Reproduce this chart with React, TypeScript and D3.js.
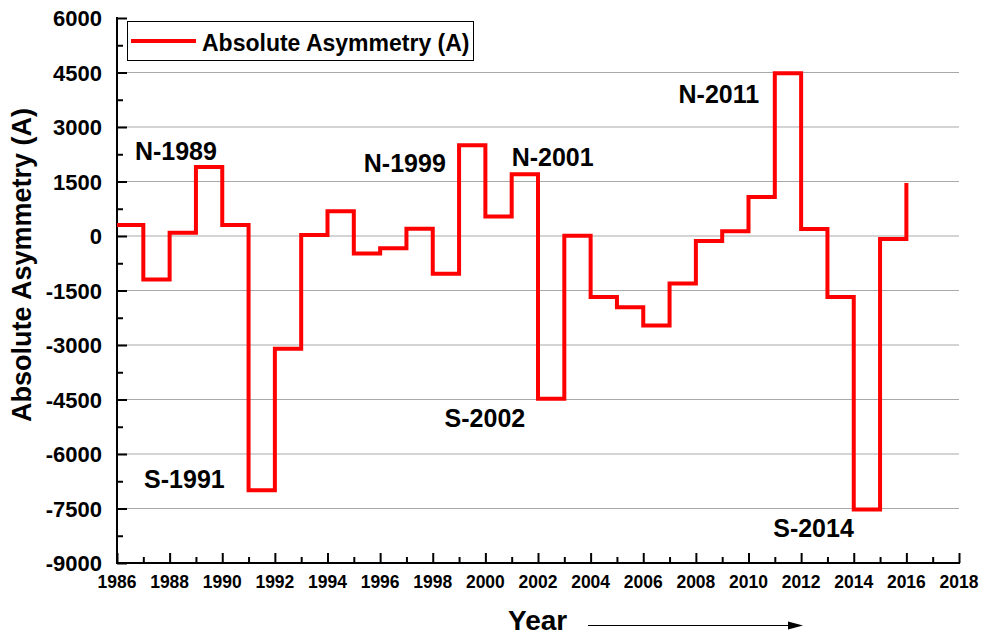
import { useEffect, useRef } from 'react'
import * as d3 from 'd3'

// yearly absolute asymmetry, each value held for one year (step after)
const years = [1986, 1987, 1988, 1989, 1990, 1991, 1992, 1993, 1994, 1995, 1996, 1997, 1998, 1999, 2000,
  2001, 2002, 2003, 2004, 2005, 2006, 2007, 2008, 2009, 2010, 2011, 2012, 2013, 2014, 2015, 2016]
const asymmetry = [300, -1200, 90, 1900, 300, -7000, -3100, 30, 680, -480, -340, 200, -1040, 2500, 540,
  1700, -4480, 10, -1680, -1960, -2460, -1310, -140, 130, 1070, 4480, 190, -1680, -7530, -80, 1460]

const xTicks = d3.range(1986, 2019, 2)
const yTicks = d3.range(-9000, 6001, 1500)

const peakLabels = ['N-1989', 'N-1999', 'N-2001', 'N-2011', 'S-1991', 'S-2002', 'S-2014']
const peakYears = [1986.68, 1995.38, 2001.0, 2007.34, 1987.03, 1998.45, 2010.94]
const peakValues = [2105, 1775, 1940, 3647, -6927, -5246, -8298]

const FONT = '"Liberation Sans", Arial, sans-serif'

export default function App() {
  const svgRef = useRef<SVGSVGElement>(null)

  useEffect(() => {
    if (!svgRef.current) return
    const svg = d3.select(svgRef.current)
    svg.selectAll('*').remove()

    const left = 117, right = 959, top = 18, bottom = 563
    const x = d3.scaleLinear().domain([1986, 2018]).range([left, right])
    const y = d3.scaleLinear().domain([-9000, 6000]).range([bottom, top])

    // grid lines
    svg.append('g')
      .selectAll('line')
      .data(yTicks.filter(v => v > -9000 && v < 6000))
      .join('line')
      .attr('x1', left).attr('x2', right)
      .attr('y1', d => y(d)).attr('y2', d => y(d))
      .attr('stroke', '#a9a9a9')
      .attr('stroke-width', 1.2)

    // y axis
    const yAxis = svg.append('g').attr('transform', `translate(${left},0)`)
    yAxis.call(d3.axisRight(y).tickValues(d3.range(-9000, 6001, 750)).tickSize(6).tickFormat(() => ''))
    yAxis.call(g => g.selectAll('.tick line').filter(d => (d as number) % 1500 === 0).attr('x2', 10))
    yAxis.selectAll('.domain').remove()
    yAxis.selectAll('.tick line').attr('stroke', '#000').attr('stroke-width', 2)
    yAxis.selectAll('.tick text').remove()
    svg.append('line')
      .attr('x1', left).attr('x2', left).attr('y1', top - 1).attr('y2', bottom + 1)
      .attr('stroke', '#000').attr('stroke-width', 2)
    svg.append('g')
      .selectAll('text')
      .data(yTicks)
      .join('text')
      .attr('x', left - 15)
      .attr('y', d => y(d) + 8)
      .attr('text-anchor', 'end')
      .attr('font-family', FONT)
      .attr('font-weight', 'bold')
      .attr('font-size', 22)
      .text(d => d)

    // x axis
    const xAxis = svg.append('g').attr('transform', `translate(0,${bottom})`)
    xAxis.call(d3.axisTop(x).tickValues(d3.range(1986, 2019, 1)).tickSize(6).tickFormat(() => ''))
    xAxis.call(g => g.selectAll('.tick line').filter(d => (d as number) % 2 === 0).attr('y2', -10))
    xAxis.selectAll('.domain').remove()
    xAxis.selectAll('.tick line').attr('stroke', '#000').attr('stroke-width', 2)
    xAxis.selectAll('.tick text').remove()
    svg.append('line')
      .attr('x1', left - 1).attr('x2', right + 1).attr('y1', bottom).attr('y2', bottom)
      .attr('stroke', '#000').attr('stroke-width', 2)
    svg.append('g')
      .selectAll('text')
      .data(xTicks)
      .join('text')
      .attr('x', d => x(d))
      .attr('y', bottom + 25)
      .attr('text-anchor', 'middle')
      .attr('font-family', FONT)
      .attr('font-weight', 'bold')
      .attr('font-size', 17.5)
      .text(d => d)

    // step line
    const pts = years.map((yr, i) => [yr, asymmetry[i]] as [number, number])
    const line = d3.line<[number, number]>().x(d => x(d[0])).y(d => y(d[1])).curve(d3.curveStepAfter)
    svg.append('path')
      .datum(pts)
      .attr('fill', 'none')
      .attr('stroke', '#ff0000')
      .attr('stroke-width', 4)
      .attr('stroke-linejoin', 'miter')
      .attr('d', line)

    // peak labels
    svg.append('g')
      .selectAll('text')
      .data(peakLabels)
      .join('text')
      .attr('x', (_, i) => x(peakYears[i]))
      .attr('y', (_, i) => y(peakValues[i]))
      .attr('font-family', FONT)
      .attr('font-weight', 'bold')
      .attr('font-size', 25)
      .text(d => d)

    // legend
    svg.append('rect')
      .attr('x', 127.5).attr('y', 21.5).attr('width', 346).attr('height', 39)
      .attr('fill', '#fff').attr('stroke', '#000').attr('stroke-width', 1)
    svg.append('line')
      .attr('x1', 131).attr('x2', 196).attr('y1', 41).attr('y2', 41)
      .attr('stroke', '#ff0000').attr('stroke-width', 4)
    svg.append('text')
      .attr('x', 202).attr('y', 51)
      .attr('font-family', FONT).attr('font-weight', 'bold').attr('font-size', 23)
      .text('Absolute Asymmetry (A)')

    // axis titles
    svg.append('text')
      .attr('transform', 'translate(31,265) rotate(-90)')
      .attr('text-anchor', 'middle')
      .attr('font-family', FONT).attr('font-weight', 'bold').attr('font-size', 27)
      .text('Absolute Asymmetry (A)')
    svg.append('text')
      .attr('x', 508).attr('y', 630)
      .attr('font-family', FONT).attr('font-weight', 'bold').attr('font-size', 28)
      .text('Year')

    // arrow next to the x title
    svg.append('line')
      .attr('x1', 588).attr('x2', 790).attr('y1', 625.5).attr('y2', 625.5)
      .attr('stroke', '#000').attr('stroke-width', 1.2)
    svg.append('path')
      .attr('d', 'M788,621.5 L803,625.5 L788,629.5 Z')
      .attr('fill', '#000')
  }, [])

  return (
    <div style={{ position: 'absolute', left: 0, top: 0 }}>
      <svg ref={svgRef} width={982} height={636} style={{ display: 'block', background: '#fff' }}></svg>
    </div>
  )
}
